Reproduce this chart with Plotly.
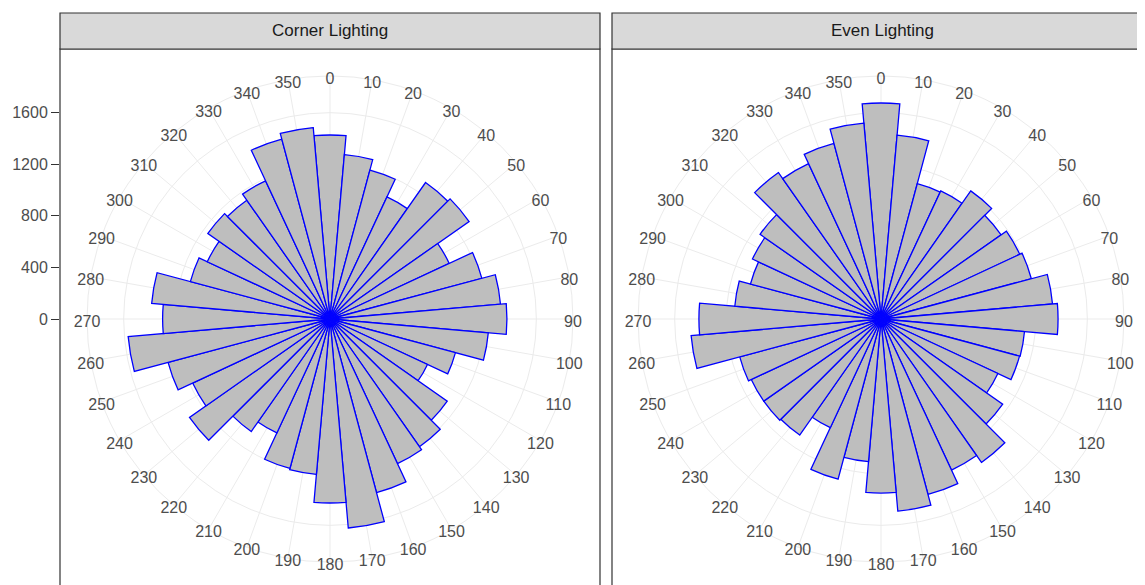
import plotly.graph_objects as go

# ---------------- data ----------------
facets = ["Corner Lighting", "Even Lighting"]
angles = list(range(0, 360, 10))
angle_labels = [str(a) for a in angles]
radial_ticks = [0, 400, 800, 1200, 1600]

corner_counts = [1427, 1280, 1196, 1045, 1292, 1317, 1020, 1219, 1327, 1372,
                 1232, 1007, 834, 1110, 1209, 1237, 1393, 1627, 1427, 1210,
                 1200, 975, 1065, 1330, 1175, 1300, 1571, 1298, 1388, 1121,
                 1050, 1156, 1125, 1182, 1444, 1490]
even_counts = [1675, 1431, 1086, 1096, 1213, 1137, 1187, 1207, 1335, 1373,
               1117, 1112, 1000, 1152, 1358, 1293, 1408, 1495, 1350, 1110,
               1286, 930, 1099, 1110, 1110, 1134, 1478, 1412, 1138, 1048,
               1100, 1145, 1386, 1329, 1409, 1524]
series = [corner_counts, even_counts]

# ---------------- layout constants (reference pixel coordinates) ----------------
OFF = 8                      # default page body margin
W, H = 1145, 585             # figure size (overflow beyond viewport is cropped)
R_PX = 243                   # outer circle radius in px
CY = 319                     # polar centre y
CX = [330, 881]              # polar centre x for each facet
LABEL_DY = 4                 # angle labels sit slightly lower (ggplot vjust)
PANELS = [(60, 600), (612, 1152)]
STRIP_TOP, STRIP_BOT = 13, 49
FONT = "Liberation Sans, Arial, sans-serif"
GRID = "#EBEBEB"

r_max = max(max(s) for s in series)
r_outer = r_max * 0.45 / 0.4
ppu = R_PX / r_outer
y_top = (CY - OFF) / ppu
y_bot = -(H - (CY - OFF)) / ppu


def px(x):
    return (x - OFF) / W


def py(y):
    return 1 - (y - OFF) / H


fig = go.Figure()

bar_ids = ["polar", "polar2"]
label_ids = ["polar3", "polar4"]
for i, vals in enumerate(series):
    fig.add_trace(go.Barpolar(
        r=vals, theta=angles, width=10,
        marker=dict(color="#BEBEBE", line=dict(color="blue", width=1.3)),
        subplot=bar_ids[i], showlegend=False, hoverinfo="skip"))
    fig.add_trace(go.Scatterpolar(
        r=[r_outer] * len(angles), theta=angles, mode="text", text=angle_labels,
        textfont=dict(family=FONT, size=16, color="#4D4D4D"),
        subplot=label_ids[i], cliponaxis=False, showlegend=False,
        hoverinfo="skip"))

# invisible trace to carry the shared left radial scale
fig.add_trace(go.Scatter(x=[0.5], y=[0], mode="markers",
                         marker=dict(opacity=0), showlegend=False,
                         hoverinfo="skip"))


def polar_layout(cx, cy):
    return dict(
        domain=dict(x=[px(cx - R_PX), px(cx + R_PX)],
                    y=[py(cy + R_PX), py(cy - R_PX)]),
        bgcolor="white",
        radialaxis=dict(range=[0, r_outer], tickvals=radial_ticks[1:],
                        showticklabels=False, ticks="", showline=False,
                        gridcolor=GRID, gridwidth=1, layer="below traces"),
        angularaxis=dict(rotation=90, direction="clockwise",
                         tickmode="array", tickvals=angles,
                         showticklabels=False, ticks="",
                         gridcolor=GRID, gridwidth=1, layer="below traces",
                         showline=True, linecolor=GRID, linewidth=1),
    )


def label_layout(cx, cy):
    return dict(
        domain=dict(x=[px(cx - R_PX), px(cx + R_PX)],
                    y=[py(cy + R_PX), py(cy - R_PX)]),
        bgcolor="rgba(0,0,0,0)",
        radialaxis=dict(range=[0, r_outer], visible=False),
        angularaxis=dict(rotation=90, direction="clockwise", visible=False),
    )


shapes = []
annotations = []
for (x0, x1), name in zip(PANELS, facets):
    shapes.append(dict(type="rect", xref="paper", yref="paper",
                       x0=px(x0), x1=px(x1), y0=py(H + 40), y1=py(STRIP_BOT),
                       line=dict(color="#333333", width=1.2),
                       fillcolor="rgba(0,0,0,0)", layer="above"))
    shapes.append(dict(type="rect", xref="paper", yref="paper",
                       x0=px(x0), x1=px(x1), y0=py(STRIP_BOT), y1=py(STRIP_TOP),
                       line=dict(color="#333333", width=1.2),
                       fillcolor="#D9D9D9", layer="above"))
    annotations.append(dict(text=name, xref="paper", yref="paper",
                            x=px((x0 + x1) / 2), y=py((STRIP_TOP + STRIP_BOT) / 2),
                            xanchor="center", yanchor="middle", showarrow=False,
                            font=dict(family=FONT, size=17, color="#1A1A1A")))

fig.update_layout(
    width=W, height=H,
    margin=dict(l=0, r=0, t=0, b=0),
    paper_bgcolor="white", plot_bgcolor="rgba(0,0,0,0)",
    polar=polar_layout(CX[0], CY),
    polar2=polar_layout(CX[1], CY),
    polar3=label_layout(CX[0], CY + LABEL_DY),
    polar4=label_layout(CX[1], CY + LABEL_DY),
    xaxis=dict(domain=[px(PANELS[0][0]), px(PANELS[0][1])], range=[0, 1],
               visible=False, fixedrange=True),
    yaxis=dict(domain=[0, 1], range=[y_bot, y_top], anchor="x",
               tickmode="array", tickvals=radial_ticks,
               ticktext=[str(t) for t in radial_ticks],
               ticks="outside", ticklen=8, tickwidth=1, tickcolor="#333333",
               showgrid=False, zeroline=False, showline=False,
               tickfont=dict(family=FONT, size=16, color="#4D4D4D"),
               fixedrange=True),
    shapes=shapes,
    annotations=annotations,
    showlegend=False,
)

fig.write_html("out.html",
               post_script="document.body.style.overflow='hidden';")
